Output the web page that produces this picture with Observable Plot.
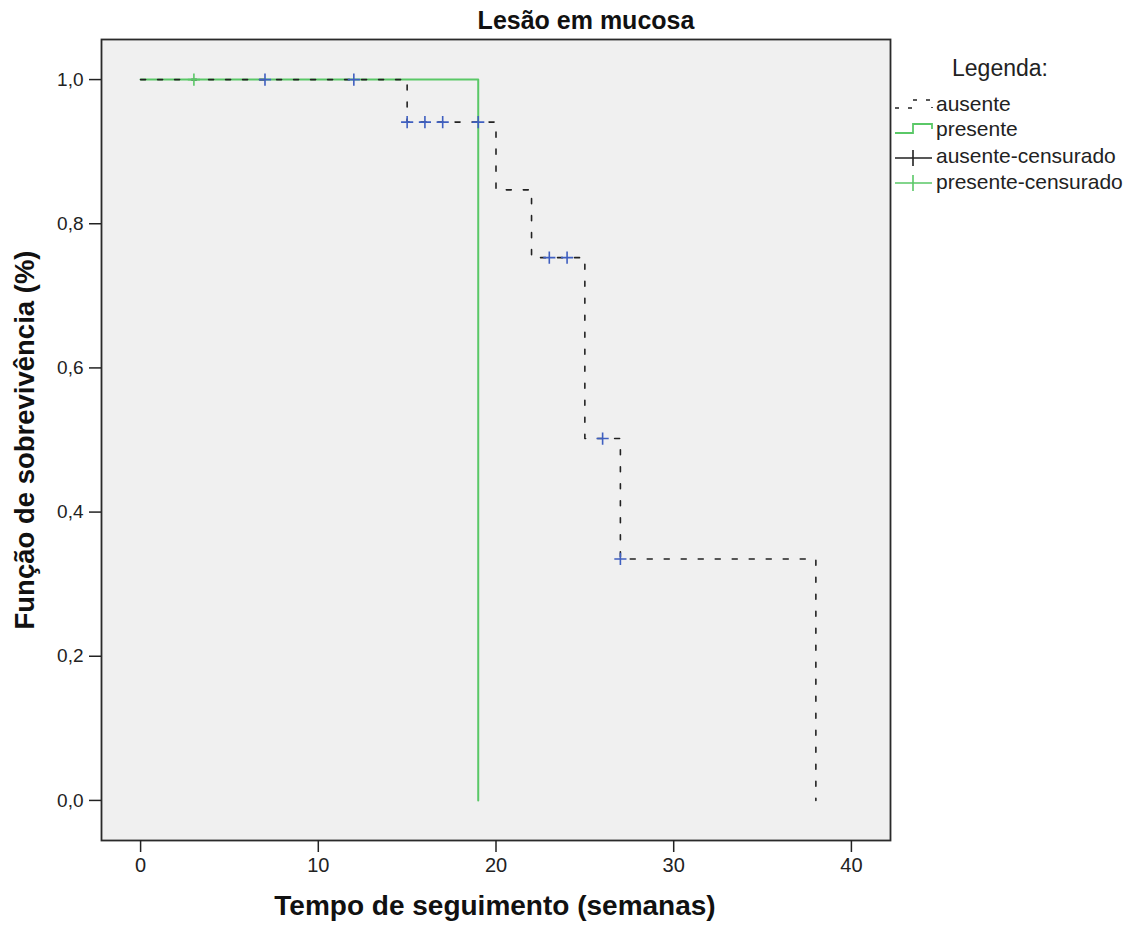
<!DOCTYPE html>
<html><head><meta charset="utf-8">
<script src="https://cdn.jsdelivr.net/npm/d3@7"></script>
<script src="https://cdn.jsdelivr.net/npm/@observablehq/plot@0.6"></script>
<style>
body{margin:0;background:#fff;}
#wrap{position:relative;width:1135px;height:928px;font-family:"Liberation Sans",Arial,sans-serif;}
#wrap > svg{position:absolute;left:0;top:0;}
</style></head><body><div id="wrap"></div>
<script>
// ---- data ----
const ausenteTempo = [0, 15, 20, 22, 25, 27, 38];
const ausenteSobrev = [1.0, 0.941, 0.847, 0.753, 0.502, 0.335, 0.0];
const presenteTempo = [0, 19];
const presenteSobrev = [1.0, 0.0];
const ausenteCensTempo = [7, 12, 15, 16, 17, 19, 23, 24, 26, 27];
const ausenteCensSobrev = [1.0, 1.0, 0.941, 0.941, 0.941, 0.941, 0.753, 0.753, 0.502, 0.335];
const presenteCensTempo = [3];
const presenteCensSobrev = [1.0];
const xTicks = [0, 10, 20, 30, 40];
const yTicks = [0, 0.2, 0.4, 0.6, 0.8, 1.0];
const legendLabels = ["ausente", "presente", "ausente-censurado", "presente-censurado"];
const titleText = "Lesão em mucosa";
const xTitle = "Tempo de seguimento (semanas)";
const yTitle = "Função de sobrevivência (%)";
const legendTitle = "Legenda:";

const rows = (t, s) => t.map((x, i) => ({t: x, s: s[i]}));
const green = "#5ac867", blue = "#3f5fc0", ink = "#222";

const chart = Plot.plot({
  width: 1135, height: 928,
  marginLeft: 101, marginRight: 245, marginTop: 39, marginBottom: 88,
  x: {domain: [-2.2, 42.2]},
  y: {domain: [-0.0556, 1.0556]},
  style: {fontFamily: "'Liberation Sans', Arial, sans-serif", background: "transparent", color: ink},
  marks: [
    Plot.frame({fill: "#f0f0f0", stroke: "#2a2a2a", strokeWidth: 1.8}),
    Plot.axisX({ticks: xTicks, tickSize: 12, tickPadding: 5, tickFormat: d => String(d), label: null, fontSize: 20, color: ink, strokeWidth: 1.5}),
    Plot.axisY({ticks: yTicks, tickSize: 12, tickPadding: 6, tickFormat: d => d.toFixed(1).replace(".", ","), label: null, fontSize: 19, color: ink, strokeWidth: 1.5}),
    Plot.line(rows(presenteTempo, presenteSobrev), {x: "t", y: "s", curve: "step-after", stroke: green, strokeWidth: 2}),
    Plot.line(rows(ausenteTempo, ausenteSobrev), {x: "t", y: "s", curve: "step-after", stroke: ink, strokeWidth: 1.6, strokeDasharray: "5,12"}),
    Plot.dot(rows(presenteCensTempo, presenteCensSobrev), {x: "t", y: "s", symbol: "plus", r: 4, stroke: green, strokeWidth: 1.6}),
    Plot.dot(rows(ausenteCensTempo, ausenteCensSobrev), {x: "t", y: "s", symbol: "plus", r: 4, stroke: blue, strokeWidth: 1.6})
  ]
});
const wrap = document.getElementById("wrap");
wrap.appendChild(chart);

// ---- overlay: titles and legend ----
const ns = "http://www.w3.org/2000/svg";
const ov = document.createElementNS(ns, "svg");
ov.setAttribute("width", 1135); ov.setAttribute("height", 928);
ov.style.fontFamily = "'Liberation Sans', Arial, sans-serif";
function txt(s, attrs) {
  const t = document.createElementNS(ns, "text");
  for (const k in attrs) t.setAttribute(k, attrs[k]);
  t.textContent = s; ov.appendChild(t); return t;
}
function path(d, attrs) {
  const p = document.createElementNS(ns, "path");
  p.setAttribute("d", d); p.setAttribute("fill", "none");
  for (const k in attrs) p.setAttribute(k, attrs[k]);
  ov.appendChild(p);
}
txt(titleText, {x: 586, y: 29, "text-anchor": "middle", "font-size": 25, "font-weight": "bold", fill: "#111"});
txt(xTitle, {x: 495, y: 915, "text-anchor": "middle", "font-size": 28, "font-weight": "bold", fill: "#111"});
txt(yTitle, {transform: "translate(34,440) rotate(-90)", "text-anchor": "middle", "font-size": 27.5, "font-weight": "bold", fill: "#111"});
txt(legendTitle, {x: 1000, y: 76, "text-anchor": "middle", "font-size": 23, fill: ink});
const base = [111, 136, 163, 189];
legendLabels.forEach((l, i) => txt(l, {x: 936, y: base[i], "font-size": 21, fill: ink}));
// legend glyphs
path("M895,108 H913 V100 H932 V108", {stroke: ink, "stroke-width": 1.6, "stroke-dasharray": "4,9"});
path("M895,133 H913 V124 H932 V129", {stroke: green, "stroke-width": 1.8});
path("M895,158 H932 M913,150 V166", {stroke: ink, "stroke-width": 1.6});
path("M895,183 H932 M913,175 V191", {stroke: green, "stroke-width": 1.6});
wrap.appendChild(ov);
</script></body></html>
